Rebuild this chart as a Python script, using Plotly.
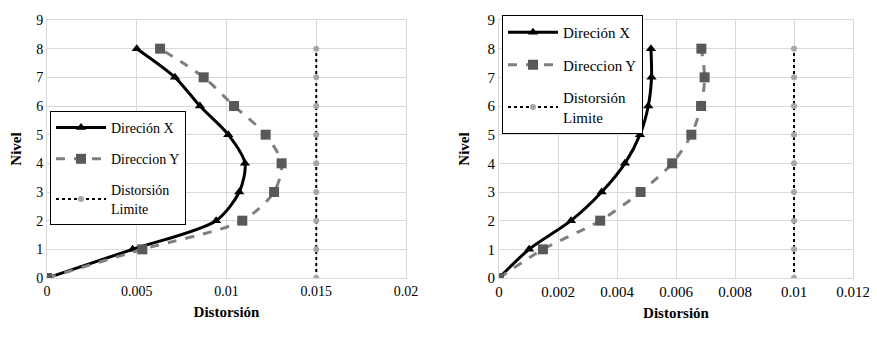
import plotly.graph_objects as go

niveles = [0, 1, 2, 3, 4, 5, 6, 7, 8]

# Left chart
izq_x = [0, 0.00477, 0.00942, 0.01071, 0.01103, 0.0101, 0.00852, 0.00713, 0.0050]
izq_y = [0, 0.00531, 0.01088, 0.01265, 0.01307, 0.01218, 0.01042, 0.00873, 0.0063]
izq_lim = [0.015] * 9

# Right chart
der_x = [0, 0.00102, 0.00244, 0.00348, 0.00427, 0.00478, 0.00506, 0.00517, 0.00515]
der_y = [0, 0.00149, 0.00343, 0.0048, 0.00587, 0.00652, 0.00685, 0.00697, 0.00686]
der_lim = [0.010] * 9

izq_ticks = [0, 0.005, 0.01, 0.015, 0.02]
izq_ticktext = ["0", "0.005", "0.01", "0.015", "0.02"]
der_ticks = [0, 0.002, 0.004, 0.006, 0.008, 0.01, 0.012]
der_ticktext = ["0", "0.002", "0.004", "0.006", "0.008", "0.01", "0.012"]
y_ticks = list(range(10))

nombres = ["Direción X", "Direccion Y", "Distorsión<br>Limite"]

FONT = "Liberation Serif, Times New Roman, serif"
OFF = 8  # default page body margin
W, H = 877 - 2 * OFF, 337 - 2 * OFF

def px(v):
    return (v - OFF) / W

def py(v):
    return 1 - (v - OFF) / H

fig = go.Figure()

def add_set(xs, ys, lims, xa, ya, leg):
    fig.add_trace(go.Scatter(
        x=xs, y=niveles, name=nombres[0], mode="lines+markers",
        line=dict(color="black", width=3, shape="spline", smoothing=0.8),
        marker=dict(symbol="triangle-up", size=9, color="black"),
        xaxis=xa, yaxis=ya, legend=leg, legendgroup="a" + leg))
    fig.add_trace(go.Scatter(
        x=ys, y=niveles, name=nombres[1], mode="lines+markers",
        line=dict(color="#7f7f7f", width=3, dash="dash", shape="spline", smoothing=0.8),
        marker=dict(symbol="square", size=10, color="#595959"),
        xaxis=xa, yaxis=ya, legend=leg, legendgroup="b" + leg))
    fig.add_trace(go.Scatter(
        x=lims, y=niveles, name=nombres[2], mode="lines+markers",
        line=dict(color="black", width=2, dash="dot"),
        marker=dict(symbol="circle", size=6, color="#a6a6a6"),
        xaxis=xa, yaxis=ya, legend=leg, legendgroup="c" + leg))

add_set(izq_x, izq_y, izq_lim, "x", "y", "legend")
add_set(der_x, der_y, der_lim, "x2", "y2", "legend2")

ydom = [py(278), py(20)]

def axis_common(fs):
    return dict(showgrid=True, gridcolor="#d9d9d9", gridwidth=1, zeroline=False,
                showline=True, linecolor="#d9d9d9", mirror=True, ticks="",
                ticklabeloverflow="allow",
                tickfont=dict(family=FONT, size=fs, color="black"), automargin=False)

title_font = dict(family=FONT, size=15, color="black")

fig.update_layout(
    width=W, height=H,
    margin=dict(l=0, r=0, t=0, b=0),
    paper_bgcolor="white", plot_bgcolor="white",
    font=dict(family=FONT, size=15, color="black"),
    xaxis=dict(domain=[px(47), px(406)], range=[0, 0.02], tickvals=izq_ticks, ticktext=izq_ticktext,
               anchor="y", title=dict(text="<b>Distorsión</b>", standoff=8, font=title_font),
               **axis_common(14)),
    yaxis=dict(domain=ydom, range=[0, 9], tickvals=y_ticks, anchor="x",
               title=dict(text="<b>Nivel</b>", standoff=14, font=title_font),
               **axis_common(14)),
    xaxis2=dict(domain=[px(499), px(853)], range=[0, 0.012], tickvals=der_ticks, ticktext=der_ticktext,
                anchor="y2", title=dict(text="<b>Distorsión</b>", standoff=8, font=title_font),
                **axis_common(15)),
    yaxis2=dict(domain=ydom, range=[0, 9], tickvals=y_ticks, anchor="x2",
                title=dict(text="<b>Nivel</b>", standoff=14, font=title_font),
                **axis_common(15)),
    legend=dict(x=px(50), y=py(111), xanchor="left", yanchor="top",
                bgcolor="white", bordercolor="black", borderwidth=1,
                font=dict(family=FONT, size=14), itemwidth=50, tracegroupgap=10,
                traceorder="grouped"),
    legend2=dict(x=px(502), y=py(15), xanchor="left", yanchor="top",
                 bgcolor="white", bordercolor="black", borderwidth=1,
                 font=dict(family=FONT, size=15), itemwidth=50, tracegroupgap=10,
                 traceorder="grouped"),
)

fig.write_html("out.html")
